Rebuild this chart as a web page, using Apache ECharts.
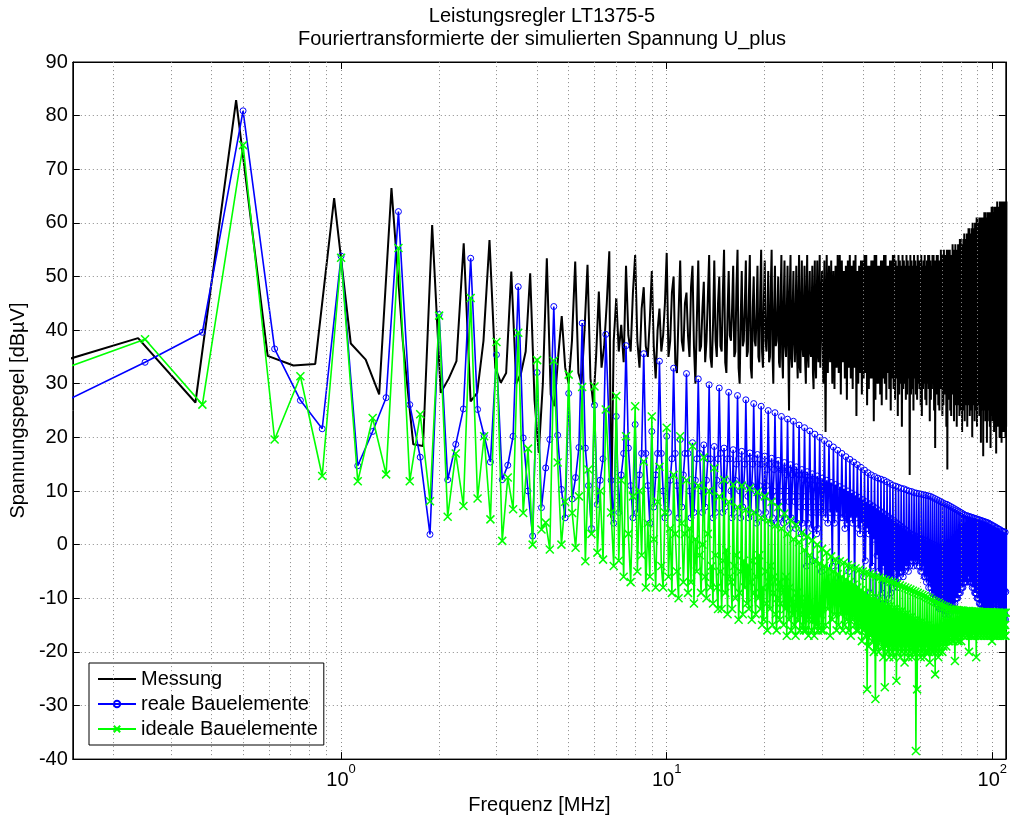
<!DOCTYPE html>
<html>
<head>
<meta charset="utf-8">
<title>Leistungsregler LT1375-5</title>
<script src="https://cdn.jsdelivr.net/npm/echarts@6.0.0/dist/echarts.min.js"></script>
<style>
  html, body { margin: 0; padding: 0; background: #fff; }
  #chart { width: 1010px; height: 820px; }
</style>
</head>
<body>
<div id="chart"></div>
<script>
// bin widths of the spectra [MHz]
var messStep = 0.119;
var simStep = 0.125;
var midStart = 6.75;    // 0.125 MHz spacing from here ...
var midStep = 0.125;
var highStart = 30.25;  // ... and 0.25 MHz spacing from here on
var highStep = 0.25;

// Messung, bins 0.119 .. 6.664 MHz
var messLow = [
  33.0, 38.5, 26.5, 82.9, 35.2, 33.4, 33.7, 64.6, 37.5, 34.5, 28.0, 66.5,
  38.0, 18.7, 18.4, 59.6, 28.3, 31.0, 34.2, 56.2, 26.7, 28.3, 38.0, 56.8,
  33.0, 30.2, 32.0, 50.9, 30.0, 32.0, 36.0, 50.6, 27.0, 17.1, 30.0, 53.4,
  28.0, 25.8, 35.0, 42.6, 33.0, 30.0, 38.0, 52.8, 32.0, 30.0, 40.0, 52.2,
  31.0, 26.1, 35.0, 47.2, 33.0, 37.0, 45.0, 54.7
];
// Messung, 6.75 .. 30.0 MHz
var messMid = [
  5, 38, 46, 36, 41, 34, 52, 39,
  36, 47, 54, 38, 33, 44, 48, 37,
  35, 42, 51, 37, 31, 40, 44, 36,
  39, 45, 54.4, 35, 38, 47, 50, 34,
  32, 43, 53, 38, 36, 45, 47, 39,
  35, 48, 52, 37, 30, 42, 53, 36,
  37, 44, 49, 34, 38, 46, 54, 35,
  33, 41, 53, 38, 35, 45, 50, 37,
  36, 47, 55, 34, 32, 43, 51, 39,
  38, 44, 52, 35, 36, 48, 55, 33,
  30, 42, 51, 37, 38, 45, 53, 35,
  36, 46, 54, 33, 31, 44, 50, 38,
  37, 43, 52, 35, 34, 47, 55, 36,
  33, 45, 53, 38, 36, 42, 51, 34,
  35, 48, 55, 36, 30, 44, 52, 37,
  38, 43, 50, 34, 33, 46, 54, 35,
  31, 45, 53, 37, 35, 43, 52, 36,
  25, 47, 54, 35, 33, 44, 51, 38,
  34, 42, 52, 36, 31, 46, 54, 33,
  32, 45, 53, 37, 35, 43, 52, 34,
  30, 46, 54, 35, 33, 44, 51, 36,
  35, 43, 52, 32, 29, 45, 53, 34,
  31, 44, 53, 36, 34, 46, 54, 33,
  33, 45, 51
];
// Messung, 30.25 .. 110.5 MHz
var messHigh = [
  30, 53,
  21, 54, 32, 52, 34, 53, 30, 51, 29, 52, 33, 54, 32, 54, 28, 53,
  34, 51, 31, 52, 27, 53, 33, 54, 31, 52, 29, 53, 33, 54, 24, 51,
  30, 52, 32, 53, 28, 53, 31, 54, 32, 54, 26, 52, 29, 52, 31, 53,
  31, 53, 23, 54, 27, 54, 30, 52, 30, 52, 28, 53, 26, 53, 31, 54,
  30, 54, 27, 52, 32, 52, 29, 53, 25, 53, 31, 54, 29, 54, 27, 53,
  31, 52, 24, 54, 28, 53, 30, 52, 22, 54, 29, 53, 30, 52, 27, 54,
  28, 53, 31, 52, 13, 54, 28, 53, 29, 52, 25, 54, 31, 53, 28, 52,
  27, 54, 30, 53, 29, 53, 26, 54, 24, 52, 29, 53, 30, 54, 27, 52,
  26, 53, 30, 54, 29, 54, 23, 53, 27, 52, 29, 54, 30, 54, 25, 53,
  18, 53, 28, 54, 28, 54, 26, 53, 25, 53, 29, 55, 29, 54, 24, 53,
  26, 55, 28, 54, 28, 53, 22, 55, 14, 54, 27, 55, 27, 55, 25, 54,
  24, 54, 28, 56, 28, 55, 23, 55, 26, 56, 27, 55, 22, 55, 26, 56,
  27, 56, 24, 57, 25, 57, 27, 56, 21, 56, 25, 57, 26, 58, 23, 57,
  26, 57, 27, 58, 22, 58, 26, 59, 27, 59, 24, 58, 25, 58, 27, 59,
  20, 60, 26, 59, 27, 59, 23, 60, 25, 60, 26, 61, 22, 61, 27, 60,
  26, 60, 24, 61, 24, 61, 19, 60, 27, 61, 25, 61, 16.5, 61, 26, 62,
  25, 62, 23, 61, 26, 61, 19, 62, 23, 62, 26, 61, 25, 62, 22, 62,
  18, 62, 25, 63, 24, 63, 23, 62, 26, 62, 21, 63, 22, 63, 25, 62,
  17, 63, 24, 64, 23, 63, 22, 63, 25, 63, 20, 64, 22, 64, 24, 63,
  19, 64, 23, 64, 24, 64, 21, 64, 21, 64, 23, 64, 20, 64, 22, 64
];

// reale Bauelemente, bins 0.125 .. 6.5 MHz
var realLow = [
  25.1, 34.0, 39.6, 80.9, 36.5, 26.9, 21.6, 53.8, 14.7, 21.1, 27.4, 62.1,
  26.1, 16.3, 1.9, 42.9, 12.1, 18.7, 25.3, 53.4, 25.2, 20.3, 15.4, 35.4,
  12.1, 14.8, 20.2, 48.1, 19.9, 10.0, 1.6, 32.1, 6.9, 14.3, 19.6, 44.4,
  20.4, 10.3, 5.0, 28.2, 8.5, 12.5, 18.1, 41.3, 18.0, 11.0, 3.0, 26.0,
  7.5, 12.0, 16.0, 39.2
];
// reale Bauelemente, 6.75 .. 30.0 MHz
var realMid = [
  12, 4, 23.9, 6, 13, 17, 37.1, 18,
  11, 5, 22.4, 6, 13, 17, 35.6, 17,
  11, 4, 21.1, 7, 13, 17, 34.2, 17,
  10, 5, 20.2, 6, 12, 16, 32.9, 17,
  11, 5, 19.6, 7, 13, 17, 31.9, 17,
  10, 5, 19.0, 6, 12, 16, 30.9, 17,
  10, 6, 18.6, 7, 12, 16, 29.8, 16,
  10, 5, 18.3, 6, 12, 16, 29.2, 17,
  11, 6, 18.0, 7, 12, 16, 28.4, 16,
  10, 5, 17.7, 6, 12, 15, 27.8, 16,
  10, 5, 17.4, 7, 11, 15, 27.0, 16,
  9, 5, 17.1, 6, 11, 15, 26.3, 16,
  10, 4, 16.8, 6, 11, 15, 25.8, 15,
  9, 5, 16.5, 6, 11, 14, 25.0, 15,
  9, 4, 16.1, 5, 10, 14, 24.6, 15,
  9, 4, 15.7, 5, 10, 14, 23.9, 14,
  8, 4, 15.3, 5, 10, 13, 23.4, 14,
  8, 3, 14.9, 5, 9, 13, 23.0, 14,
  8, 3, 14.5, 4, 9, 13, 22.3, 13,
  7, 2, 14.0, 4, 9, 12, 21.8, 13,
  7, -4, 13.6, 4, 8, 12, 21.2, 12,
  6, 3, 13.2, -3, 8, 11, 20.6, 12,
  6, 2, 12.8, 3, 7, 11, 20.0, 11,
  6, -5, 12.4
];
// reale Bauelemente, 30.25 .. 110.5 MHz
var realHigh = [
  6, 19.4,
  5, 12.0, 4, 18.8, 6, 11.6, -4, 18.2, 4, 11.2, 6, 17.6, -7, 10.8, 5, 17.0,
  5, 10.4, 3, 16.4, 4, 10.0, -5, 15.9, 5, 9.6, 4, 15.4, -8, 9.2, 5, 14.9,
  3, 8.8, 2, 14.4, 4, 8.4, -6, 13.9, -3, 8.0, 3, 13.4, 2, 7.6, -9, 13.0,
  -4, 7.2, 1, 12.7, -10, 6.8, -2, 12.4, -5, 6.4, -11, 12.2, -9, 6.0, -4, 12.0,
  -11, 5.6, -7, 11.7, -6, 5.2, -10, 11.4, -9, 4.8, -6, 11.1, -8, 4.4, -5, 10.9,
  -7, 4.0, -8, 10.7, -6, 3.6, -5, 10.5, -5, 3.2, -6, 10.4, -5, 2.8, -4, 10.2,
  -4, 2.4, -5, 10.0, -4, 2.0, -3, 9.9, -3, 1.8, -4, 9.7, -3, 1.6, -3, 9.6,
  -4, 1.4, -3, 9.5, -4, 1.2, -5, 9.4, -5, 1.0, -4, 9.3, -6, 0.8, -6, 9.2,
  -7, 0.6, -6, 9.1, -8, 0.4, -7, 9.0, -8, 0.2, -9, 8.8, -10, 0.0, -9, 8.6,
  -10, -0.2, -11, 8.4, -11, -0.4, -10, 8.2, -12, -0.6, -11, 8.0, -12, -0.8, -12, 7.8,
  -12, -1.0, -13, 7.6, -13, -1.2, -12, 7.5, -12, -1.4, -13, 7.3, -13, -1.6, -12, 7.1,
  -12, -1.8, -12, 6.9, -11, -2.0, -12, 6.7, -11, -2.2, -10, 6.5, -10, -2.4, -10, 6.3,
  -9, -2.6, -9, 6.1, -9, -2.8, -8, 5.9, -8, -3.0, -8, 5.7, -7, -3.2, -7, 5.5,
  -7, -3.4, -6, 5.4, -7, -3.6, -6, 5.3, -6, -3.8, -7, 5.2, -7, -4.0, -7, 5.1,
  -8, -4.2, -7, 5.0, -8, -4.4, -9, 4.9, -9, -4.6, -9, 4.8, -10, -4.8, -10, 4.7,
  -10, -5.0, -11, 4.6, -11, -5.2, -11, 4.5, -12, -5.4, -11, 4.4, -12, -5.6, -12, 4.3,
  -12, -5.8, -13, 4.2, -13, -6.0, -12, 4.1, -12, -6.2, -13, 4.0, -13, -6.4, -12, 3.8,
  -12, -6.6, -13, 3.7, -13, -6.8, -12, 3.5, -12, -7.0, -11, 3.4, -11, -7.2, -12, 3.2,
  -12, -7.4, -11, 3.1, -11, -7.6, -12, 2.9, -12, -7.8, -13, 2.8, -13, -8.0, -12, 2.6,
  -12, -8.2, -13, 2.5, -13, -8.4, -14, 2.4, -14, -8.6, -13, 2.3, -14, -8.8, -15, 2.2
];

// ideale Bauelemente, bins 0.125 .. 6.5 MHz
var idealLow = [
  31.7, 38.3, 26.1, 74.5, 19.6, 31.4, 12.8, 53.5, 11.8, 23.6, 13.1, 55.3,
  11.8, 24.3, 8.1, 42.7, 5.2, 17.0, 7.2, 46.0, 8.6, 20.2, 4.7, 37.8,
  0.7, 12.5, 6.6, 39.5, 5.9, 17.9, 0.0, 34.4, 2.8, 4.1, -0.9, 34.3,
  15.3, 0.0, 8.0, 31.7, 5.9, -0.6, 9.0, 29.4, -3.1, 14.0, 2.0, 29.5,
  -1.5, 10.0, -2.8, 25.2
];
// ideale Bauelemente, 6.75 .. 30.0 MHz
var idealMid = [
  6, -4, 27.7, -3, 12, -6, 20.2, 2,
  -7, 9, 25.8, -5, 10, -2, 15.5, -8,
  4, -6, 23.9, 1, -8, 8, 14.5, -4,
  -8, 6, 21.8, -6, 3, -9, 13, 2,
  -5, -10, 20.2, 4, -7, 2, 12, -9,
  3, -7, 18.4, -11, 1, -5, 11, -2,
  -9, 0, 16.3, -6, -10, 2, 10, -8,
  -4, -11, 14.3, -2, -8, -12, 9, -5,
  -12, -3, 12.1, -9, -1, -13, 8, -6,
  -7, -12, 11.2, -4, -10, -2, 7, -14,
  -9, -5, 11.0, -13, -3, -8, 6.5, -11,
  -4, -12, 10.5, -7, -14, -3, 6, -9,
  -13, -6, 9.8, -10, -2, -12, 5, -15,
  -8, -14, 9.0, -5, -11, -16, 4.5, -7,
  -12, -4, 8.0, -15, -9, -6, 3.5, -13,
  -16, -10, 7.0, -7, -14, -11, 3, -8,
  -9, -15, 5.8, -12, -6, -17, 2, -11,
  -14, -8, 4.5, -16, -10, -13, 1, -15,
  -11, -17, 3.7, -9, -14, -12, 0.5, -16,
  -13, -10, 2.2, -15, -11, -16, -1, -12,
  -16, -13, 1.5, -11, -17, -14, -2, -13,
  -12, -16, 0.8, -14, -12, -17, -3, -14,
  -15, -12, 0.0, -16, -13, -15, -3.5, -12,
  -13, -16, -0.8
];
// ideale Bauelemente, 30.25 .. 110.5 MHz
var idealHigh = [
  -16, -4,
  -15, -1.5, -12, -4.5, -17, -2.2, -14, -5, -13, -2.8, -16, -5.5, -15, -3.1, -13, -6,
  -16, -3.4, -15, -6.5, -14, -3.8, -16, -7, -17, -4.1, -14, -7.5, -15, -4.4, -16, -8,
  -16, -4.7, -15, -8.5, -18, -5.0, -16, -9, -17, -5.2, -27, -9.5, -19, -5.5, -17, -10,
  -18, -5.7, -20, -10, -28.8, -6.0, -19, -10.5, -20, -6.2, -18, -11, -19, -6.4, -21, -11,
  -26.6, -6.6, -19, -11.5, -20, -6.8, -21, -11.5, -19, -7.0, -20, -12, -21, -7.1, -19, -12,
  -25.4, -7.4, -20, -12.5, -19, -7.6, -21, -12.5, -20, -7.8, -19, -13, -22, -8.0, -20, -13,
  -19, -8.2, -21, -13.5, -20, -8.4, -19, -13.5, -21, -8.6, -20, -14, -20, -8.8, -38.5, -14,
  -27, -9.0, -20, -14.5, -19, -9.2, -21, -14.5, -20, -9.4, -19, -15, -21, -9.6, -20, -15,
  -19, -9.8, -20, -15, -20, -10.0, -22, -15.5, -19, -10.3, -20, -15.5, -20, -10.5, -19, -15.5,
  -24.2, -10.7, -20, -16, -19, -10.9, -21, -16, -20, -11.1, -19, -16, -18, -11.3, -20, -16,
  -19, -11.5, -18, -16, -18, -11.6, -19, -16, -17, -11.8, -18, -16, -18, -12.0, -17, -16,
  -17, -12.1, -18, -15.5, -18, -12.1, -17, -15.5, -21.7, -12.2, -17, -15.5, -17, -12.2, -18, -15.5,
  -18, -12.3, -17, -15.5, -17, -12.3, -18, -15.5, -16, -12.3, -17, -15.5, -17, -12.4, -16, -15.5,
  -16, -12.4, -17, -15, -17, -12.4, -16, -15, -20, -12.4, -17, -15, -16, -12.5, -17, -15,
  -17, -12.5, -16, -15, -16, -12.5, -17, -15, -17, -12.5, -21, -15, -16, -12.5, -17, -15,
  -17, -12.5, -16, -15, -16, -12.6, -17, -15, -17, -12.6, -16, -15, -16, -12.6, -17, -15,
  -17, -12.6, -16, -15, -16, -12.6, -17, -15, -17, -12.6, -16, -15, -16, -12.6, -17, -15,
  -17, -12.6, -16, -15, -18, -12.6, -17, -15, -16, -12.7, -17, -15, -17, -12.7, -16, -15,
  -16, -12.7, -17, -15, -17, -12.7, -16, -15, -16, -12.7, -17, -15, -17, -12.7, -16, -15,
  -16, -12.7, -17, -15, -17, -12.7, -16, -15, -16, -12.7, -17, -15, -17, -12.7, -16, -15
];

// dotted minor grid positions of the log axis
var minorGrid = [0.2, 0.3, 0.4, 0.5, 0.6, 0.7, 0.8, 0.9,
                 2, 3, 4, 5, 6, 7, 8, 9,
                 20, 30, 40, 50, 60, 70, 80, 90];

function toPoints(lowVals, lowStep, midVals, highVals) {
  var pts = [];
  lowVals.forEach(function (v, i) { pts.push([lowStep * (i + 1), v]); });
  midVals.forEach(function (v, i) { pts.push([midStart + midStep * i, v]); });
  highVals.forEach(function (v, i) { pts.push([highStart + highStep * i, v]); });
  return pts;
}

var font = 'Liberation Sans, Arial, Helvetica, sans-serif';
var gridLine = { type: [1, 3], color: '#8a8a8a', width: 1 };

var myChart = echarts.init(document.getElementById('chart'));
myChart.setOption({
  animation: false,
  backgroundColor: '#fff',
  textStyle: { fontFamily: font },
  title: {
    text: 'Leistungsregler LT1375-5\nFouriertransformierte der simulierten Spannung U_plus',
    left: 537,
    top: 0,
    textAlign: 'center',
    textStyle: { fontFamily: font, fontSize: 20, fontWeight: 'normal', color: '#000', lineHeight: 23 }
  },
  grid: { left: 68, right: 4, top: 62, bottom: 60, show: true, borderColor: '#000', borderWidth: 1 },
  legend: {
    data: [
      { name: 'Messung', itemStyle: { opacity: 0 } },
      'reale Bauelemente',
      'ideale Bauelemente'
    ],
    orient: 'vertical',
    left: 89,
    top: 663,
    itemWidth: 38,
    itemHeight: 8,
    itemGap: 5,
    padding: [6, 6, 6, 8],
    backgroundColor: '#fff',
    borderColor: '#000',
    borderWidth: 1,
    borderRadius: 0,
    textStyle: { fontFamily: font, fontSize: 20, color: '#000' }
  },
  xAxis: [{
    type: 'log',
    logBase: 10,
    min: 0.15,
    max: 110,
    name: 'Frequenz [MHz]',
    nameLocation: 'middle',
    nameGap: 33,
    nameTextStyle: { fontFamily: font, fontSize: 20, color: '#000' },
    axisLine: { onZero: false, lineStyle: { color: '#000', width: 1 } },
    axisTick: { inside: true, length: 7, lineStyle: { color: '#000' } },
    axisLabel: {
      margin: 4,
      showMinLabel: false,
      formatter: function (v) { return '{b|10}{s|' + Math.round(Math.log10(v)) + '}'; },
      rich: {
        b: { fontFamily: font, fontSize: 20, color: '#000', padding: [7, 0, 0, 0], verticalAlign: 'bottom' },
        s: { fontFamily: font, fontSize: 13, color: '#000', verticalAlign: 'top' }
      }
    },
    splitLine: { show: true, lineStyle: gridLine }
  }, {
    type: 'log',
    logBase: 10,
    min: 0.15,
    max: 110,
    position: 'top',
    axisLine: { onZero: false, lineStyle: { color: '#000' } },
    axisTick: { inside: true, length: 7, lineStyle: { color: '#000' } },
    axisLabel: { show: false },
    splitLine: { show: false }
  }],
  yAxis: [{
    type: 'value',
    min: -40,
    max: 90,
    interval: 10,
    name: 'Spannungspegel [dBµV]',
    nameLocation: 'middle',
    nameGap: 39,
    nameTextStyle: { fontFamily: font, fontSize: 20, color: '#000' },
    axisLine: { show: true, onZero: false, lineStyle: { color: '#000' } },
    axisTick: { show: true, inside: true, length: 7, lineStyle: { color: '#000' } },
    axisLabel: { margin: 5, fontFamily: font, fontSize: 20, color: '#000' },
    splitLine: { show: true, lineStyle: gridLine }
  }, {
    type: 'value',
    min: -40,
    max: 90,
    interval: 10,
    position: 'right',
    axisLine: { show: true, onZero: false, lineStyle: { color: '#000' } },
    axisTick: { show: true, inside: true, length: 7, lineStyle: { color: '#000' } },
    axisLabel: { show: false },
    splitLine: { show: false }
  }],
  series: [
    {
      name: 'minor grid',
      type: 'line',
      data: [],
      z: 1,
      silent: true,
      markLine: {
        silent: true,
        symbol: 'none',
        label: { show: false },
        lineStyle: gridLine,
        emphasis: { disabled: true },
        data: minorGrid.map(function (v) { return { xAxis: v }; })
      }
    },
    {
      name: 'Messung',
      type: 'line',
      data: toPoints(messLow, messStep, messMid, messHigh),
      symbol: 'none',
      color: '#000',
      lineStyle: { color: '#000', width: 2 },
      emphasis: { disabled: true },
      z: 3
    },
    {
      name: 'reale Bauelemente',
      type: 'line',
      data: toPoints(realLow, simStep, realMid, realHigh),
      symbol: 'circle',
      symbolSize: 6,
      color: '#0000ff',
      itemStyle: { color: 'rgba(0,0,0,0)', borderColor: '#0000ff', borderWidth: 1 },
      lineStyle: { color: '#0000ff', width: 1.6 },
      emphasis: { disabled: true },
      z: 4
    },
    {
      name: 'ideale Bauelemente',
      type: 'line',
      data: toPoints(idealLow, simStep, idealMid, idealHigh),
      symbol: 'path://M0,0L10,10M0,10L10,0',
      symbolSize: 8,
      color: '#00ff00',
      itemStyle: { color: 'rgba(0,0,0,0)', borderColor: '#00ff00', borderWidth: 1.5 },
      lineStyle: { color: '#00ff00', width: 1.6 },
      emphasis: { disabled: true },
      z: 5
    }
  ]
});
</script>
</body>
</html>
